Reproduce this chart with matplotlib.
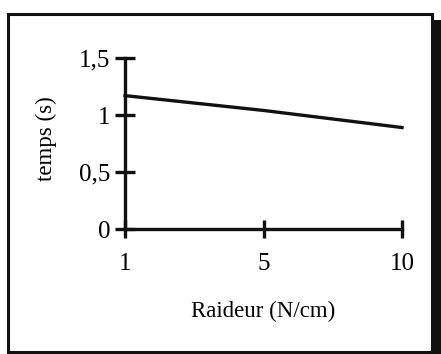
import matplotlib.pyplot as plt
from matplotlib.patches import Rectangle
from matplotlib.ticker import FuncFormatter

# données
raideur = ["1", "5", "10"]
temps = [1.17, 1.04, 0.89]
y_ticks = [0, 0.5, 1, 1.5]

plt.rcParams['font.family'] = ['Liberation Serif', 'DejaVu Serif']

W, H = 441, 354
fig = plt.figure(figsize=(W / 100, H / 100), dpi=100)

# cadre avec ombre
fig.patches.append(Rectangle((432 / W, 0), 9 / W, 1 - 20 / H, transform=fig.transFigure,
                             facecolor='#111111', edgecolor='none', zorder=-2))
fig.patches.append(Rectangle((8 / W, 2 / H), 424 / W, 1 - 16 / H, transform=fig.transFigure,
                             facecolor='white', edgecolor='#111111', linewidth=2.2, zorder=-1))

ax = fig.add_axes([125 / W, 1 - 229 / H, 277 / W, 171 / H])
ax.set_zorder(3)
ax.patch.set_alpha(0)
x = list(range(len(raideur)))
ax.plot(x, temps, color='#111111', linewidth=2.4, clip_on=False)

ax.set_xlim(0, len(raideur) - 1)
ax.set_ylim(0, 1.5)
ax.set_xticks(x)
ax.set_xticklabels(raideur)
ax.set_yticks(y_ticks)
ax.yaxis.set_major_formatter(FuncFormatter(lambda v, p: f"{v:g}".replace('.', ',')))

for s in ['top', 'right']:
    ax.spines[s].set_visible(False)
for s in ['left', 'bottom']:
    ax.spines[s].set_linewidth(2.4)
    ax.spines[s].set_color('#111111')
ax.tick_params(direction='inout', width=2.4, color='#111111', labelsize=18)
ax.tick_params(axis='y', length=15, pad=3)
ax.tick_params(axis='x', length=12.5, pad=11)

ax.set_xlabel('Raideur (N/cm)', fontsize=16.5, va='center')
ax.xaxis.set_label_coords(0.5, -0.48)
ax.set_ylabel('temps (s)', fontsize=16.5, va='center')
ax.yaxis.set_label_coords(-0.285, 0.53)

fig.savefig('out.png', dpi=100)
